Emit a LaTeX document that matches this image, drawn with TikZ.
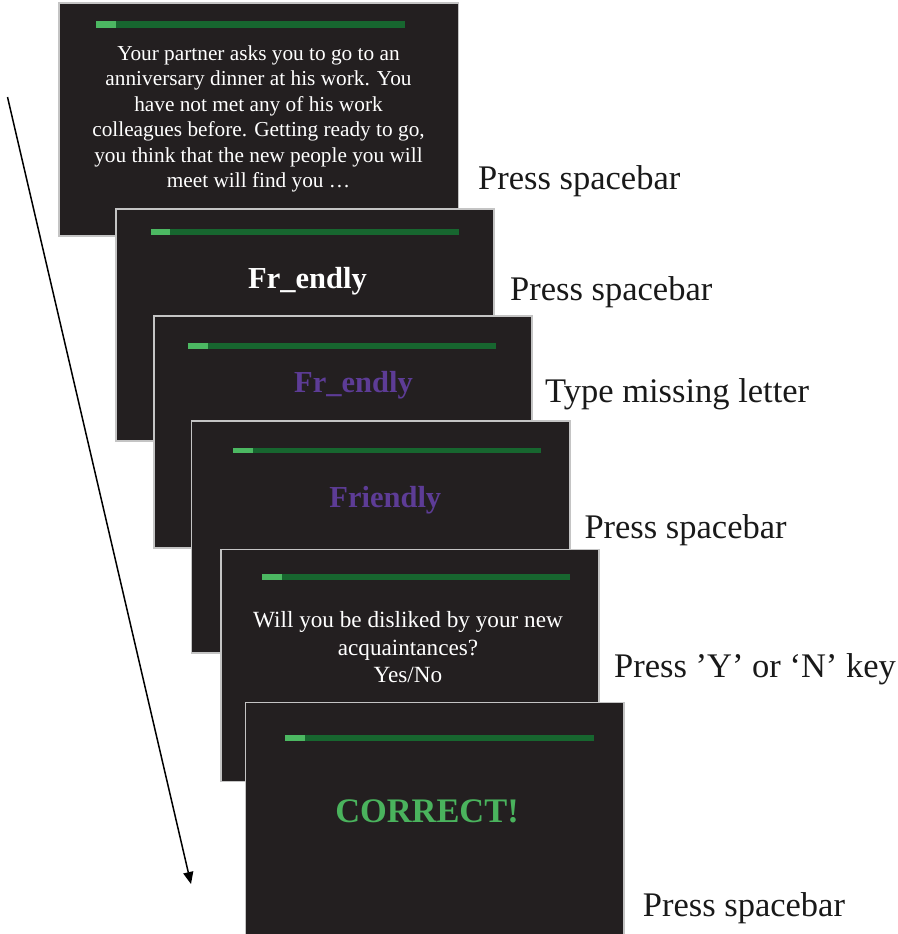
\documentclass[tikz,border=0pt]{standalone}
\usepackage{fontspec}
\setmainfont{Liberation Serif}
\usetikzlibrary{arrows.meta}

\definecolor{screenbg}{HTML}{231F20}
\definecolor{screenedge}{HTML}{C4C4C4}
\definecolor{bardark}{HTML}{17662F}
\definecolor{barlight}{HTML}{4CB862}
\definecolor{cuepurple}{HTML}{5D3C96}
\definecolor{okgreen}{HTML}{4AB35D}

\tikzset{
  screen/.style={draw=screenedge, line width=1.1pt, fill=screenbg,
    rectangle, inner sep=0pt, minimum width=378pt, minimum height=232pt},
  stimtext/.style={inner sep=0pt, anchor=base, text=white, align=center},
  cueword/.style={inner sep=0pt, anchor=base, font=\bfseries\fontsize{30.5}{36}\selectfont},
  steplabel/.style={inner sep=0pt, anchor=base west, text=black!90,
    font=\fontsize{34.5}{40}\selectfont},
}

% progress bar: left edge, split point, right edge, top, bottom
\newcommand{\progbar}[5]{%
  \fill[barlight] (#1,#4) rectangle (#2,#5);
  \fill[bardark] (#2,#4) rectangle (#3,#5);
}

\begin{document}
\begin{tikzpicture}[x=1pt, y=-1pt]
\useasboundingbox (0,0) rectangle (897,934);

% screen 1: scenario (text node is anchored at the baseline of its last line)
\node[screen, minimum width=399.5pt, minimum height=233pt] (s1) at (258.75,119.5) {};
\progbar{96}{116}{404.7}{21}{27.7}
\node[stimtext, font=\fontsize{21.3}{25.5}\selectfont] (t1) at (258.5,187.7)
  {Your partner asks you to go to an\\anniversary dinner at his work. You\\have not met any of his work\\colleagues before. Getting ready to go,\\you think that the new people you will\\meet will find you …};

% screen 2: fragment
\node[screen] (s2) at (305,325) {};
\progbar{150.7}{170.3}{459}{229}{234.7}
\node[cueword, text=white] (t2) at (307.5,288) {Fr\_endly};

% screen 3: fragment to complete
\node[screen] (s3) at (343,432) {};
\progbar{188}{208}{496}{343}{349}
\node[cueword, text=cuepurple] (t3) at (353.5,392.7) {Fr\_endly};

% screen 4: completed word
\node[screen, minimum width=378.5pt] (s4) at (380.75,537) {};
\progbar{233}{252.7}{541}{447.7}{453.3}
\node[cueword, text=cuepurple] (t4) at (385.3,507.3) {Friendly};

% screen 5: comprehension question
\node[screen, minimum height=232.4pt] (s5) at (410,665.5) {};
\progbar{262}{282}{570}{573.7}{579.7}
\node[stimtext, font=\fontsize{23.2}{27.7}\selectfont] (t5) at (408,682.7)
  {Will you be disliked by your new\\acquaintances?\\Yes/No};

% screen 6: feedback
\node[screen, minimum width=378.3pt, minimum height=232.3pt] (s6) at (434.85,818.85) {};
\progbar{285}{305}{593.7}{735}{741}
\node[cueword, text=okgreen, font=\bfseries\fontsize{34.4}{40}\selectfont] (t6) at (427,822.7) {CORRECT!};

% responses
\node[steplabel] (l1) at (478,189.3) {Press spacebar};
\node[steplabel] (l2) at (510,300) {Press spacebar};
\node[steplabel] (l3) at (545,402.7) {Type missing letter};
\node[steplabel] (l4) at (584.3,538.3) {Press spacebar};
\node[steplabel] (l5) at (614,677.3) {Press ’Y’ or ‘N’ key};
\node[steplabel] (l6) at (642.7,916.7) {Press spacebar};

% time arrow
\coordinate (tstart) at (7.5,97);
\coordinate (tend) at (191,884);
\draw[line width=1.5pt, -{Triangle[length=12pt, width=10pt]}] (tstart) -- (tend);
\end{tikzpicture}
\end{document}
